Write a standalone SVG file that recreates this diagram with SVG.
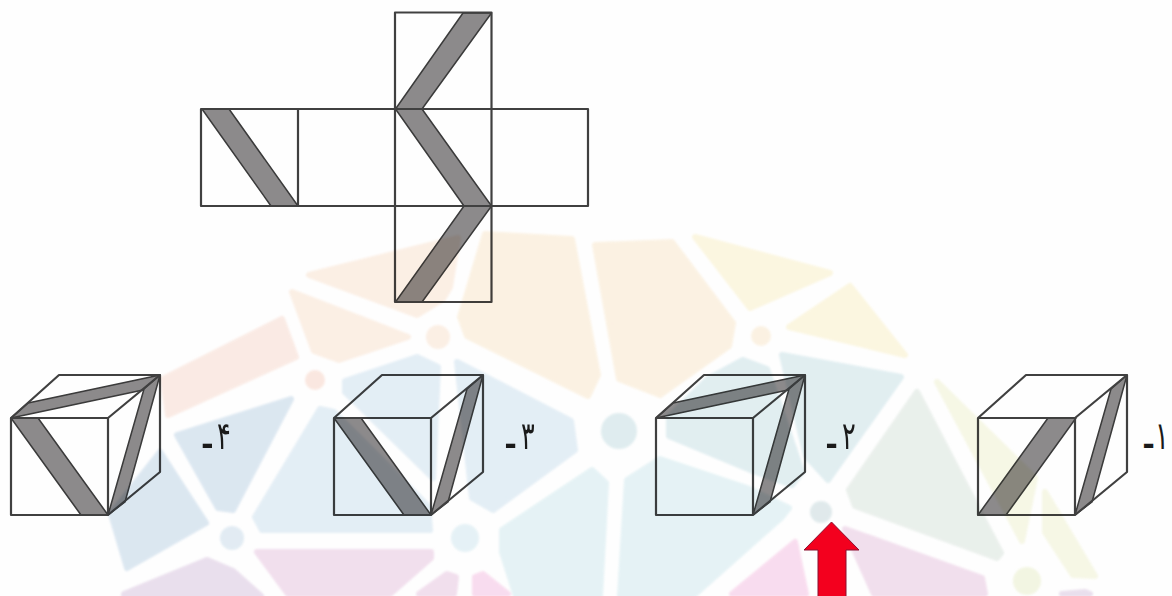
<svg xmlns="http://www.w3.org/2000/svg" width="1172" height="596" viewBox="0 0 1172 596">
<defs>
<style>
.ln{fill:none;stroke:#404040;stroke-width:2.2;stroke-linejoin:round}
.st{fill:#8c8a8b;stroke:#3a3a3a;stroke-width:1.5;stroke-linejoin:round}
.wm polygon{stroke-width:6;stroke-linejoin:round}
.lb{font-family:"DejaVu Sans",sans-serif;font-size:32px;fill:#1a1a1a}
.dash{font-size:44px}
.salmon{fill:#fbe9e2;stroke:#fbe9e2}.peach{fill:#fceee2;stroke:#fceee2}.orange{fill:#fcf1e0;stroke:#fcf1e0}
.yellow{fill:#fcf6dd;stroke:#fcf6dd}.teal{fill:#deedf0;stroke:#deedf0}.lteal{fill:#e3f2f5;stroke:#e3f2f5}
.blue{fill:#d8e5f0;stroke:#d8e5f0}.lblue{fill:#e1edf5;stroke:#e1edf5}.grey{fill:#e8efea;stroke:#e8efea}
.olive{fill:#f6f7e3;stroke:#f6f7e3}.pink{fill:#f1dcec;stroke:#f1dcec}.purple{fill:#e8dcec;stroke:#e8dcec}.mag{fill:#f9d9ee;stroke:#f9d9ee}
</style>
<filter id="soft" x="-5%" y="-5%" width="110%" height="110%"><feGaussianBlur stdDeviation="0.55"/></filter>
<filter id="softer" x="-5%" y="-5%" width="110%" height="110%"><feGaussianBlur stdDeviation="1"/></filter>
<g id="faces">
<path class="ln" d="M11 418H108V515H11ZM11 418L59 375H160L108 418M160 375V472L108 515"/>
</g>
<polygon id="sideStripe" class="st" points="108,515 144,389 160,375 125,502"/>
<polygon id="topStripe" class="st" points="11,418 28,403 160,375 143,390"/>
<polygon id="frontStripe" class="st" points="11,418 38,418 108,515 81,515"/>
</defs>
<rect width="1172" height="596" fill="#fefefe"/>
<g filter="url(#soft)">
<g id="net">
<polygon class="st" points="202,109 229,109 298,206 271,206"/>
<polygon class="st" points="463,13 491.500,13 422,109 395.500,109"/>
<polygon class="st" points="395.500,109 422,109 491.500,206 464,206"/>
<polygon class="st" points="464,206 491.500,206 422,302 395.500,302"/>
<path class="ln" d="M201 109H588V206H201ZM298 109V206M395 109V206M491.500 109V206M395 109V12.500H491.500V109M395 206V302H491.500V206"/>
</g>
<g id="cube4">
<use href="#frontStripe"/><use href="#topStripe"/><use href="#sideStripe"/><use href="#faces"/>
</g>
<g id="cube3" transform="translate(323 0)">
<use href="#frontStripe"/><use href="#sideStripe"/><use href="#faces"/>
</g>
<g id="cube2" transform="translate(645 0)">
<use href="#topStripe"/><use href="#sideStripe"/><use href="#faces"/>
</g>
<g id="cube1" transform="translate(967 0)">
<polygon class="st" points="11,515 39,515 109,418 81,418"/>
<use href="#sideStripe"/><use href="#faces"/>
</g>
</g>
<g id="watermark" class="wm" style="mix-blend-mode:multiply" filter="url(#softer)" opacity="0.88">
<polygon class="salmon" points="163,379 282,319 296,357 168,415"/>
<polygon class="peach" points="292,292 408,337 339,360 314,351"/>
<polygon class="peach" points="309,275 458,238 450,287 443,299 417,315"/>
<polygon class="orange" points="485,234 572,239 598,375 588,396 467,336 460,317"/>
<polygon class="orange" points="595,245 672,242 733,323 729,346 660,395 619,379"/>
<polygon class="yellow" points="695,237 830,273 750,308"/>
<polygon class="yellow" points="850,286 905,355 789,327"/>
<polygon class="teal" points="782,355 901,377 828,480 806,456"/>
<polygon class="teal" points="743,360 708,379 669,417 669,436 753,471 792,485 802,472 767,369"/>
<polygon class="lteal" points="660,459 747,488 789,508 782,517 693,596 620,596 627,480"/>
<polygon class="lteal" points="592,470 606,483 600,596 516,596 502,552 502,530"/>
<polygon class="grey" points="917,392 1001,553 997,558 855,506 849,490"/>
<polygon class="olive" points="937,382 1035,478 1022,541"/>
<polygon class="olive" points="1045,492 1095,576 1073,575 1045,532"/>
<polygon class="blue" points="177,435 291,399 233,510 218,508"/>
<polygon class="blue" points="111,514 160,452 206,523 127,568"/>
<polygon class="lblue" points="345,381 417,357 438,367 433,478 345,392"/>
<polygon class="lblue" points="255,517 320,409 334,412 428,506 430,530 262,530"/>
<polygon class="lblue" points="457,362 571,421 575,450 493,510 472,498"/>
<polygon class="purple" points="124,594 207,560 233,571 261,596 124,596"/>
<polygon class="pink" points="257,552 431,552 431,558 390,594 288,594"/>
<polygon class="pink" points="419,594 447,574 456,577 454,594"/>
<polygon class="mag" points="475,577 483,574 508,594 475,594"/>
<polygon class="mag" points="732,594 795,542 806,594"/>
<polygon class="pink" points="845,529 982,578 985,594 874,594"/>
<polygon class="purple" points="1062,594 1085,592 1090,594"/>
<circle cx="619" cy="431" r="18" fill="#dcebee"/>
<circle cx="761" cy="336" r="10" fill="#fcf1e0"/>
<circle cx="821" cy="512" r="11" fill="#dde8ea"/>
<circle cx="1027" cy="581" r="14" fill="#f2f5df"/>
<circle cx="438" cy="337" r="12" fill="#fceee2"/>
<circle cx="315" cy="380" r="10" fill="#fbe5dd"/>
<circle cx="232" cy="538" r="12" fill="#dfeaf3"/>
<circle cx="465" cy="538" r="14" fill="#e3f1f6"/>
</g>
<g id="connectors"></g>
<g id="arrow">
<polygon points="831.500,522 859,550 846,550 846,597 818,597 818,550 804,550" fill="#f3001e" stroke="#8a1030" stroke-width="1"/>
</g>
<g id="labels">
<text class="lb" transform="translate(217 449) scale(.8 1.2)"><tspan class="dash" x="-20" y="10">-</tspan><tspan x="0" y="0">۴</tspan></text>
<text class="lb" transform="translate(521 449) scale(.8 1.2)"><tspan class="dash" x="-21" y="10">-</tspan><tspan x="0" y="0">۳</tspan></text>
<text class="lb" transform="translate(842 449) scale(.8 1.2)"><tspan class="dash" x="-21" y="10">-</tspan><tspan x="0" y="0">۲</tspan></text>
<text class="lb" transform="translate(1155 449) scale(.8 1.2)"><tspan class="dash" x="-16" y="10">-</tspan><tspan x="0" y="0">۱</tspan></text>
</g>
</svg>
